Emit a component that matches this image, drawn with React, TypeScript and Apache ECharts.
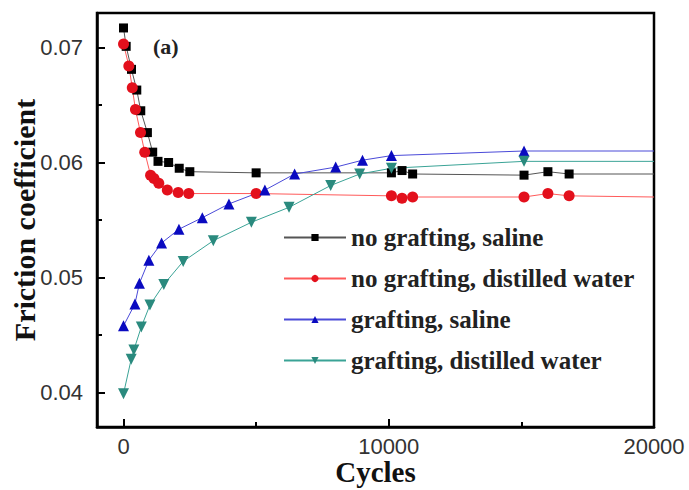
import React, { useEffect, useRef } from "react";
import * as echarts from "echarts";

// Friction coefficient vs. number of cycles for grafted / non-grafted samples
const seriesNames = [
  "no grafting, saline",
  "no grafting, distilled water",
  "grafting, saline",
  "grafting, distilled water",
];

const cyclesNoGraftSaline = [0, 100, 300, 500, 650, 900, 1100, 1300, 1700, 2100, 2500, 5000, 10100, 10500, 10900, 15100, 16000, 16800];
const frictionNoGraftSaline = [0.0717, 0.0701, 0.0681, 0.0663, 0.0645, 0.0626, 0.0609, 0.0601, 0.06, 0.0595, 0.0592, 0.0591, 0.0591, 0.0593, 0.059, 0.0589, 0.0592, 0.059];

const cyclesNoGraftWater = [0, 200, 330, 450, 640, 800, 1020, 1150, 1330, 1650, 2060, 2460, 5000, 10100, 10500, 10900, 15100, 16000, 16800];
const frictionNoGraftWater = [0.0703, 0.0684, 0.0665, 0.0646, 0.0626, 0.0609, 0.0589, 0.0586, 0.0582, 0.0576, 0.0574, 0.0573, 0.0573, 0.0571, 0.0569, 0.057, 0.057, 0.0573, 0.0571];

const cyclesGraftSaline = [0, 430, 600, 955, 1435, 2090, 2970, 3975, 5330, 6450, 8000, 9010, 10100, 15100];
const frictionGraftSaline = [0.0458, 0.0477, 0.0495, 0.0515, 0.053, 0.0542, 0.0552, 0.0564, 0.0576, 0.059, 0.0596, 0.0602, 0.0606, 0.061];

const cyclesGraftWater = [0, 290, 390, 670, 995, 1520, 2250, 3385, 4820, 6240, 7810, 8905, 10100, 15100];
const frictionGraftWater = [0.0399, 0.0429, 0.0437, 0.0457, 0.0476, 0.0494, 0.0514, 0.0532, 0.0548, 0.0561, 0.058, 0.059, 0.0595, 0.0601];

// fitted curves run on to the right edge of the frame
const fitEndCycles = 20000;
const fitEndFriction = [0.059, 0.057, 0.061, 0.0601];

const xTicks = [0, 10000, 20000];
const xMinorTicks = [5000, 15000];
const yTicks = [0.04, 0.05, 0.06, 0.07];
const yMinorTicks = [0.045, 0.055, 0.065];

const SERIF = '"Liberation Serif", "Times New Roman", serif';
const SANS = '"Liberation Sans", Arial, sans-serif';

function pairs(xs: number[], ys: number[], endY: number) {
  const pts: any[] = xs.map((x, i) => [x, ys[i]]);
  pts.push({ value: [fitEndCycles, endY], symbol: "none" });
  return pts;
}

export default function App() {
  const ref = useRef<HTMLDivElement>(null);

  useEffect(() => {
    if (!ref.current) return;
    const chart = echarts.init(ref.current, undefined, { renderer: "svg" });

    const mkSeries = (
      idx: number,
      xs: number[],
      ys: number[],
      symbol: string,
      size: number,
      color: string,
      lineColor: string,
      rotate = 0
    ) => ({
      name: seriesNames[idx],
      type: "line",
      data: pairs(xs, ys, fitEndFriction[idx]),
      symbol,
      symbolSize: size,
      symbolRotate: rotate,
      itemStyle: { color },
      lineStyle: { color: lineColor, width: 1 },
      emphasis: { disabled: true },
    });

    const minorAxisCommon = {
      axisLine: { show: false, onZero: false },
      axisLabel: { show: false },
      splitLine: { show: false },
    };

    chart.setOption({
      animation: false,
      backgroundColor: "#fff",
      grid: {
        left: 97,
        right: 35,
        top: 13,
        bottom: 63,
        containLabel: false,
        outerBoundsMode: "none",
        show: true,
        borderColor: "#000",
        borderWidth: 2.5,
      },
      xAxis: [
        {
          type: "value",
          min: -1000,
          max: 20000,
          position: "bottom",
          axisLine: { show: true, onZero: false, lineStyle: { color: "#000", width: 2.5 } },
          axisTick: {
            show: true,
            inside: true,
            length: 8,
            customValues: xTicks,
            lineStyle: { color: "#000", width: 2 },
          },
          axisLabel: {
            customValues: xTicks,
            formatter: (v: number) => String(v),
            fontSize: 22,
            lineHeight: 18,
            fontFamily: SANS,
            color: "#333",
            margin: 10,
          },
          splitLine: { show: false },
          name: "Cycles",
          nameLocation: "middle",
          nameGap: 33,
          nameMoveOverlap: false,
          nameTextStyle: {
            fontFamily: SERIF,
            fontWeight: "bold",
            fontSize: 29,
            lineHeight: 24,
            color: "#111",
          },
        },
        {
          type: "value",
          min: -1000,
          max: 20000,
          position: "bottom",
          axisTick: {
            show: true,
            inside: true,
            length: 5,
            customValues: xMinorTicks,
            lineStyle: { color: "#000", width: 2 },
          },
          ...minorAxisCommon,
        },
      ],
      yAxis: [
        {
          type: "value",
          min: 0.037,
          max: 0.073,
          position: "left",
          axisLine: { show: true, onZero: false, lineStyle: { color: "#000", width: 2.5 } },
          axisTick: {
            show: true,
            inside: true,
            length: 8,
            customValues: yTicks,
            lineStyle: { color: "#000", width: 2 },
          },
          axisLabel: {
            customValues: yTicks,
            formatter: (v: number) => v.toFixed(2),
            fontSize: 22,
            fontFamily: SANS,
            color: "#333",
            margin: 14,
          },
          splitLine: { show: false },
          name: "Friction coefficient",
          nameLocation: "middle",
          nameGap: 58,
          nameMoveOverlap: false,
          nameTextStyle: {
            fontFamily: SERIF,
            fontWeight: "bold",
            fontSize: 30,
            color: "#111",
          },
        },
        {
          type: "value",
          min: 0.037,
          max: 0.073,
          position: "left",
          axisTick: {
            show: true,
            inside: true,
            length: 5,
            customValues: yMinorTicks,
            lineStyle: { color: "#000", width: 2 },
          },
          ...minorAxisCommon,
        },
      ],
      legend: {
        orient: "vertical",
        left: 278,
        top: 220,
        itemWidth: 62,
        itemHeight: 9,
        itemGap: 16,
        data: seriesNames,
        textStyle: {
          fontFamily: SERIF,
          fontWeight: "bold",
          fontSize: 25,
          lineHeight: 24,
          color: "#222",
        },
      },
      graphic: [
        {
          type: "text",
          left: 153,
          top: 35,
          style: {
            text: "(a)",
            font: 'bold 22px "Liberation Serif", serif',
            fill: "#222",
          },
        },
      ],
      series: [
        mkSeries(0, cyclesNoGraftSaline, frictionNoGraftSaline, "rect", 9, "#000000", "#555555"),
        mkSeries(1, cyclesNoGraftWater, frictionNoGraftWater, "circle", 11, "#e3101c", "#ff5a5a"),
        mkSeries(2, cyclesGraftSaline, frictionGraftSaline, "triangle", 11, "#0a0ac0", "#4a4ad8"),
        mkSeries(3, cyclesGraftWater, frictionGraftWater, "triangle", 11, "#2a8a7e", "#3aa396", 180),
      ],
    });

    return () => chart.dispose();
  }, []);

  return (
    <div
      ref={ref}
      style={{ position: "fixed", left: 0, top: 0, width: 689, height: 490 }}
    />
  );
}
